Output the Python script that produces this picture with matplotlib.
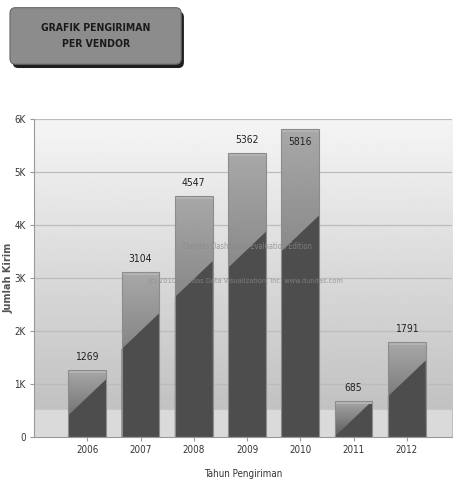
import numpy as np
import matplotlib.pyplot as plt
from matplotlib.patches import FancyBboxPatch, Polygon

# data
years = ['2006', '2007', '2008', '2009', '2010', '2011', '2012']
kirim = [1269, 3104, 4547, 5362, 5816, 685, 1791]
yticks = [0, 1000, 2000, 3000, 4000, 5000, 6000]
ytick_labels = ['0', '1K', '2K', '3K', '4K', '5K', '6K']

narrow = dict(family='DejaVu Sans', fontstretch='condensed')

fig = plt.figure(figsize=(4.53, 4.79), dpi=100)
ax = fig.add_axes([0.075, 0.0877, 0.923, 0.664])
x = np.arange(len(years))
ax.set_xlim(-1, 6.85)
ax.set_ylim(0, 6000)

# background gradient of the plot area (light on top, darker below)
bg = np.linspace(0.96, 0.74, 256)[:, None]
ax.imshow(bg, cmap='gray', vmin=0, vmax=1, aspect='auto',
          extent=(-1, 6.85, 0, 6000), origin='upper', zorder=0)
ax.axhspan(0, 500, color='#dadada', zorder=0.5)
for t in yticks[1:]:
    ax.axhline(t, color='#bcbcbc', lw=0.9, zorder=1)

# bars with gradient + diagonal shade
bars = ax.bar(x, kirim, width=0.71, color='none', edgecolor='#8c8c8c', lw=0.8, zorder=3)
grad = np.linspace(0.66, 0.36, 256)[:, None]
upp = 1000 / 53.0  # data units per pixel
for b, v in zip(bars, kirim):
    x0, x1 = b.get_x(), b.get_x() + b.get_width()
    im = ax.imshow(grad, cmap='gray', vmin=0, vmax=1, aspect='auto',
                   extent=(x0, x1, 0, v), origin='upper', zorder=2)
    im.set_clip_path(b)
    yr = min(v, 0.68 * v + 12 * upp)
    yl = max(0, yr - 36 * upp)
    ax.add_patch(Polygon([(x0, 0), (x1, 0), (x1, yr), (x0, yl)],
                         closed=True, color='#4d4d4d', lw=0, zorder=2.5))
    ax.add_patch(Polygon([(x0, v - 3 * upp), (x1, v - 3 * upp), (x1, v), (x0, v)],
                         closed=True, color='#b4b4b4', lw=0, zorder=2.6))
    if v > 5600:
        ax.text(b.get_x() + b.get_width() / 2, v - 8 * upp, str(v), ha='center', va='top',
                fontsize=7.5, color='#222222', zorder=4, **narrow)
    else:
        ax.text(b.get_x() + b.get_width() / 2, v + 8 * upp, str(v), ha='center', va='bottom',
                fontsize=7.5, color='#222222', zorder=4, **narrow)

ax.set_xticks(x)
ax.set_xticklabels(years, fontsize=7, color='#333333', **narrow)
ax.set_yticks(yticks)
ax.set_yticklabels(ytick_labels, fontsize=7, color='#333333', **narrow)
ax.tick_params(axis='both', length=3, color='#999999', pad=3)
for s in ['top', 'right']:
    ax.spines[s].set_visible(False)
for s in ['left', 'bottom']:
    ax.spines[s].set_color('#999999')
ax.set_xlabel('Tahun Pengiriman', fontsize=7, color='#333333', labelpad=10, **narrow)
ax.set_ylabel('Jumlah Kirim', fontsize=7, color='#555555', fontweight='bold')
ax.yaxis.set_label_coords(-0.05, 0.5)

# watermark
ax.text(0.51, 0.60, 'Dundas Dashboard Evaluation Edition', transform=ax.transAxes,
        ha='center', va='center', fontsize=5.5, color='#8a8a8a', alpha=0.8, zorder=5, **narrow)
ax.text(0.505, 0.49, '(c) 2010 Dundas Data Visualization, Inc. www.dundas.com', transform=ax.transAxes,
        ha='center', va='center', fontsize=5.3, color='#8a8a8a', alpha=0.8, zorder=5, **narrow)

# title box
shadow = FancyBboxPatch((0.028, 0.858), 0.378, 0.118, boxstyle='round,pad=0,rounding_size=0.012',
                        transform=fig.transFigure, facecolor='#1e1e1e', edgecolor='none')
box = FancyBboxPatch((0.022, 0.866), 0.378, 0.118, boxstyle='round,pad=0,rounding_size=0.012',
                     transform=fig.transFigure, facecolor='#8c8c8c', edgecolor='#6a6a6a', lw=0.8)
fig.patches.extend([shadow, box])
fig.text(0.211, 0.925, 'GRAFIK PENGIRIMAN\nPER VENDOR', ha='center', va='center',
         fontsize=7.5, fontweight='bold', color='#1a1a1a', linespacing=1.8, **narrow)

fig.savefig('out.png', dpi=100)
